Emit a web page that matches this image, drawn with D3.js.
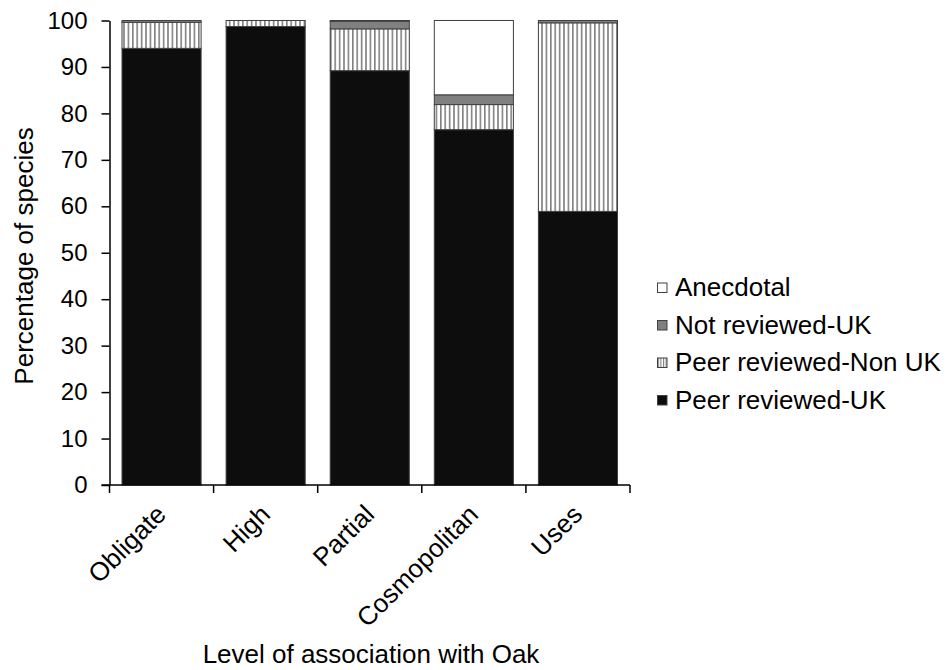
<!DOCTYPE html>
<html><head><meta charset="utf-8">
<script src="https://cdn.jsdelivr.net/npm/d3@7"></script>
<style>body{margin:0;background:#fff}svg{font-family:"Liberation Sans",Arial,sans-serif}</style>
</head><body><svg id="c" width="950" height="670"></svg>
<script>
const categories = ["Obligate","High","Partial","Cosmopolitan","Uses"];
const seriesNames = ["Peer reviewed-UK","Peer reviewed-Non UK","Not reviewed-UK","Anecdotal"];
const peerUK      = [94.0, 98.7, 89.2, 76.5, 58.9];
const peerNonUK   = [5.6, 1.3, 9.0, 5.4, 40.6];
const notReviewed = [0.4, 0.0, 1.6, 2.1, 0.5];
const anecdotal   = [0.0, 0.0, 0.2, 16.0, 0.0];
const yTicks = [0,10,20,30,40,50,60,70,80,90,100];

(function(){
const svg = d3.select("#c");
const defs = svg.append("defs");
const pat = defs.append("pattern").attr("id","hatch").attr("patternUnits","userSpaceOnUse")
  .attr("width",4.4).attr("height",10);
pat.append("rect").attr("width",4.4).attr("height",10).attr("fill","#fff");
pat.append("rect").attr("x",0).attr("width",1.6).attr("height",10).attr("fill","#808080");
const patL = defs.append("pattern").attr("id","hatchL").attr("patternUnits","userSpaceOnUse")
  .attr("width",2.6).attr("height",10);
patL.append("rect").attr("width",2.6).attr("height",10).attr("fill","#fff");
patL.append("rect").attr("x",0).attr("width",1.1).attr("height",10).attr("fill","#808080");

const fills = {"Peer reviewed-UK":"#0d0d0d","Peer reviewed-Non UK":"url(#hatch)","Not reviewed-UK":"#808080","Anecdotal":"#ffffff"};
const legendFills = {"Peer reviewed-UK":"#0d0d0d","Peer reviewed-Non UK":"url(#hatchL)","Not reviewed-UK":"#808080","Anecdotal":"#ffffff"};

const pL = 109.5, pR = 630, pT = 20.5, pB = 485;
const x = d3.scaleBand().domain(categories).range([pL,pR]).padding(0);
const y = d3.scaleLinear().domain([0,100]).range([pB,pT]);

const rows = categories.map((c,i)=>({cat:c,"Peer reviewed-UK":peerUK[i],"Peer reviewed-Non UK":peerNonUK[i],"Not reviewed-UK":notReviewed[i],"Anecdotal":anecdotal[i]}));
const stack = d3.stack().keys(seriesNames)(rows);

const inset = 12.5;
const g = svg.append("g");
stack.forEach(layer=>{
  g.selectAll(null).data(layer).enter().append("rect")
    .attr("x",d=>x(d.data.cat)+inset)
    .attr("width",x.bandwidth()-2*inset)
    .attr("y",d=>y(d[1]))
    .attr("height",d=>Math.max(0,y(d[0])-y(d[1])))
    .attr("fill",fills[layer.key])
    .attr("stroke",d=>(d[1]-d[0])>0?"#404040":"none")
    .attr("stroke-width",1);
});

const ya = svg.append("g").attr("transform",`translate(${pL},0)`)
  .call(d3.axisLeft(y).tickValues(yTicks).tickSize(8).tickSizeOuter(0).tickPadding(14));
ya.select(".domain").attr("stroke","#000").attr("stroke-width",1.5);
ya.selectAll(".tick line").attr("stroke","#000").attr("stroke-width",1.5);
ya.selectAll("text").attr("font-size",24).attr("fill","#000").attr("font-family","Liberation Sans, Arial, sans-serif");

const bounds = categories.map(c=>x(c)).concat([pR]);
const xa = svg.append("g");
xa.append("line").attr("x1",pL-8).attr("x2",pR).attr("y1",pB).attr("y2",pB).attr("stroke","#000").attr("stroke-width",1.5);
xa.selectAll(".bt").data(bounds).enter().append("line")
  .attr("x1",d=>d).attr("x2",d=>d).attr("y1",pB).attr("y2",pB+8)
  .attr("stroke","#000").attr("stroke-width",1.5);
xa.selectAll(".lbl").data(categories).enter().append("text")
  .attr("transform",d=>`translate(${x(d)+x.bandwidth()/2+6},${pB+31}) rotate(-45)`)
  .attr("text-anchor","end").attr("font-size",26).attr("fill","#000").text(d=>d);

svg.append("text").attr("transform",`translate(33,256) rotate(-90)`)
  .attr("text-anchor","middle").attr("font-size",26).text("Percentage of species");
svg.append("text").attr("x",371).attr("y",663).attr("text-anchor","middle").attr("font-size",26)
  .text("Level of association with Oak");

const legendOrder = ["Anecdotal","Not reviewed-UK","Peer reviewed-Non UK","Peer reviewed-UK"];
const lg = svg.append("g");
legendOrder.forEach((k,i)=>{
  const yy = 296 + i*37.5;
  lg.append("rect").attr("x",657.5).attr("y",yy-13).attr("width",9.5).attr("height",9.5)
    .attr("fill",legendFills[k]).attr("stroke","#404040").attr("stroke-width",1);
  lg.append("text").attr("x",675).attr("y",yy).attr("font-size",26).attr("fill","#000").text(k);
});
})();
</script></body></html>
